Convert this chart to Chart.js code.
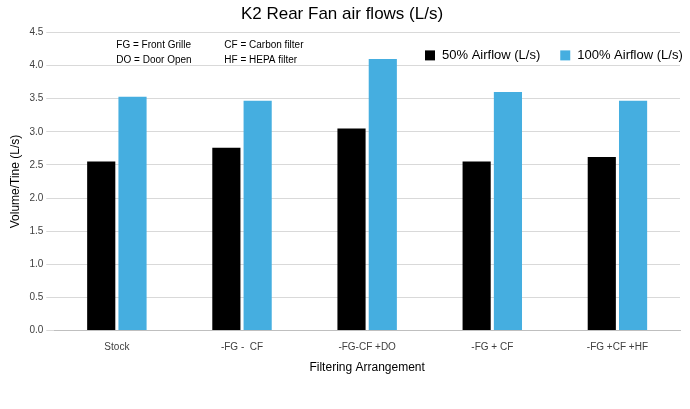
<!DOCTYPE html>
<html>
<head>
<script src="https://cdn.jsdelivr.net/npm/chart.js@4"></script>
<style>
  body { margin: 0; background: #fff; }
  #wrap { width: 690px; height: 409px; }
</style>
</head>
<body>
<div id="wrap"><canvas id="fanChart"></canvas></div>
<script>
const categories = ['Stock', '-FG -  CF', '-FG-CF +DO', '-FG + CF', '-FG +CF +HF'];
const airflow50 = [2.55, 2.76, 3.05, 2.55, 2.62];
const airflow100 = [3.53, 3.47, 4.10, 3.60, 3.47];
const notes = [
  ['FG = Front Grille', 'CF = Carbon filter'],
  ['DO = Door Open', 'HF = HEPA filter']
];

const notesPlugin = {
  id: 'notes',
  afterDraw(chart) {
    const ctx = chart.ctx;
    const area = chart.chartArea;
    ctx.save();
    ctx.fillStyle = '#000';
    ctx.font = '10px "Liberation Sans", Arial, sans-serif';
    ctx.textBaseline = 'middle';
    notes.forEach((row, i) => {
      ctx.fillText(row[0], area.left + 62, area.top + 13 + i * 15);
      ctx.fillText(row[1], area.left + 170, area.top + 13 + i * 15);
    });
    // legend, drawn by hand in the top right of the plot
    ctx.font = '13px "Liberation Sans", Arial, sans-serif';
    const y = area.top + 23;
    let x = 425;
    chart.data.datasets.forEach((ds) => {
      ctx.fillStyle = ds.backgroundColor;
      ctx.fillRect(x, y - 5, 10, 10);
      ctx.fillStyle = '#000';
      ctx.fillText(ds.label, x + 17, y);
      x += 17 + ctx.measureText(ds.label).width + 20;
    });
    ctx.restore();
  }
};

new Chart(document.getElementById('fanChart'), {
  type: 'bar',
  data: {
    labels: categories,
    datasets: [{
      label: '50% Airflow (L/s)',
      data: airflow50,
      backgroundColor: '#000000',
      categoryPercentage: 0.5,
      barPercentage: 0.9
    },
    {
      label: '100% Airflow (L/s)',
      data: airflow100,
      backgroundColor: '#45aee0',
      categoryPercentage: 0.5,
      barPercentage: 0.9
    }]
  },
  options: {
    responsive: true,
    maintainAspectRatio: false,
    animation: false,
    layout: { padding: { left: 4, right: 10, top: 0, bottom: 30 } },
    plugins: {
      title: {
        display: true,
        text: 'K2 Rear Fan air flows (L/s)',
        color: '#000',
        font: { size: 17, weight: 'normal', family: '"Liberation Sans", Arial, sans-serif' },
        padding: { top: 4, bottom: 8 }
      },
      legend: { display: false },
      tooltip: { enabled: false }
    },
    scales: {
      x: {
        grid: { display: false },
        border: { color: '#bfbfbf' },
        ticks: { color: '#404040', font: { size: 10 } },
        title: {
          display: true,
          text: 'Filtering Arrangement',
          color: '#000',
          font: { size: 12 }
        }
      },
      y: {
        min: 0,
        max: 4.5,
        ticks: {
          stepSize: 0.5,
          color: '#404040',
          font: { size: 10 },
          callback: (v) => v.toFixed(1)
        },
        grid: { color: '#d9d9d9' },
        border: { display: false },
        title: {
          display: true,
          text: 'Volume/Tine (L/s)',
          color: '#000',
          font: { size: 12 }
        }
      }
    }
  },
  plugins: [notesPlugin]
});
</script>
</body>
</html>
